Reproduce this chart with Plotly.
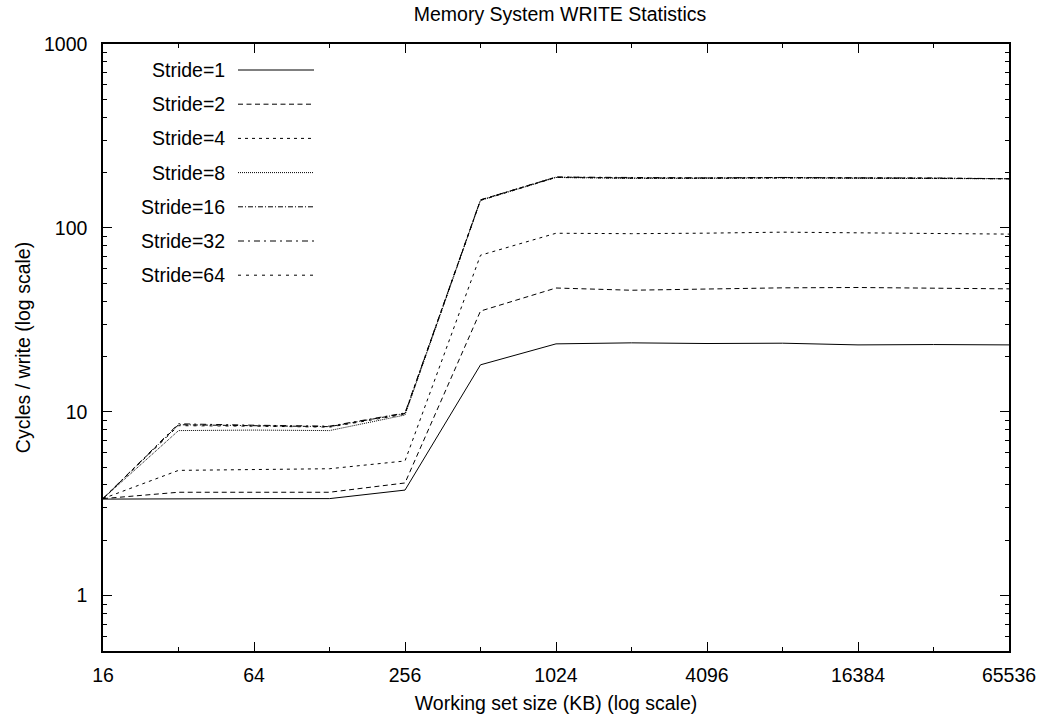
import plotly.graph_objects as go

# ---- data ----
sizes_kb = [16, 32, 64, 128, 256, 512, 1024, 2048, 4096, 8192, 16384, 32768, 65536]
stride_1 = [3.35, 3.37, 3.37, 3.37, 3.75, 18.0, 23.4, 23.7, 23.5, 23.6, 23.1, 23.2, 23.1]
stride_2 = [3.37, 3.65, 3.65, 3.65, 4.1, 35.3, 47.1, 45.8, 46.5, 47.2, 47.4, 47.0, 46.6]
stride_4 = [3.37, 4.8, 4.85, 4.9, 5.4, 71.0, 93.5, 93.0, 93.6, 94.8, 94.0, 93.5, 92.5]
stride_8 = [3.37, 7.9, 7.95, 7.9, 9.6, 141.0, 188.0, 186.0, 186.0, 187.0, 186.0, 186.0, 185.0]
stride_16 = [3.37, 8.5, 8.4, 8.3, 9.8, 142.0, 189.0, 187.0, 187.0, 188.0, 187.0, 187.0, 185.0]
stride_32 = [3.37, 8.6, 8.45, 8.35, 9.85, 142.0, 189.0, 187.5, 187.0, 188.0, 187.5, 187.0, 185.0]
stride_64 = [3.37, 8.4, 8.35, 8.25, 9.7, 141.0, 188.0, 186.0, 186.0, 187.0, 187.0, 186.0, 185.0]

series_names = ["Stride=1", "Stride=2", "Stride=4", "Stride=8", "Stride=16", "Stride=32", "Stride=64"]
series_values = [stride_1, stride_2, stride_4, stride_8, stride_16, stride_32, stride_64]

x_major_ticks = [16, 64, 256, 1024, 4096, 16384, 65536]
x_minor_ticks = [32, 128, 512, 2048, 8192, 32768]
y_major_ticks = [1, 10, 100, 1000]

# ---- styles ----
dashes = ["solid", "5px,3.5px", "3px,4px", "1px,1px", "5px,2px,1px,2px", "6px,4px,2px,4px", "3px,5px"]
FONT = "Liberation Sans, Arial, Helvetica, sans-serif"
FS = 19.5

W, H = 1044, 717
L, R, T, B = 103, 1009, 44, 651
pw, ph = R - L, B - T

fig = go.Figure()
for name, vals, dash in zip(series_names, series_values, dashes):
    fig.add_trace(go.Scatter(x=sizes_kb, y=vals, mode="lines", name=name,
                             line=dict(color="black", width=1, dash=dash),
                             showlegend=False))

# manual gnuplot-style key: text right-aligned then line sample
for i, (name, dash) in enumerate(zip(series_names, dashes)):
    py = 70 + i * 34.2
    yp = (B - py) / ph
    fig.add_annotation(x=(227 - L) / pw, y=yp, xref="paper", yref="paper",
                       text=name, showarrow=False, xanchor="right", yanchor="middle",
                       font=dict(family=FONT, size=FS, color="black"))
    fig.add_shape(type="line", xref="paper", yref="paper",
                  x0=(238 - L) / pw, x1=(314 - L) / pw, y0=yp, y1=yp,
                  line=dict(color="black", width=1, dash=dash))

fig.update_layout(
    width=W, height=H,
    margin=dict(l=L, r=W - R, t=T, b=H - B, autoexpand=False),
    paper_bgcolor="white", plot_bgcolor="white",
    font=dict(family=FONT, size=FS, color="black"),
    title=dict(text="Memory System WRITE Statistics", x=560 / W, xanchor="center",
               y=1 - 14 / H, yanchor="middle", yref="container",
               font=dict(family=FONT, size=FS, color="black")),
)

fig.update_xaxes(
    type="log", range=[1.2041199826559248, 4.816479930623699],
    tickmode="array", tickvals=x_major_ticks, ticktext=[str(v) for v in x_major_ticks],
    ticks="inside", ticklen=9, tickwidth=1, tickcolor="black",
    minor=dict(tickmode="array", tickvals=x_minor_ticks, ticks="inside", ticklen=4.5,
               tickwidth=1, tickcolor="black", showgrid=False),
    showline=True, linewidth=1.5, linecolor="black", mirror="ticks",
    showgrid=False, zeroline=False, ticklabelstandoff=6,
    title=dict(text="Working set size (KB) (log scale)", standoff=11,
               font=dict(family=FONT, size=FS)),
)
fig.update_yaxes(
    type="log", range=[-0.30103, 3],
    tickmode="array", tickvals=y_major_ticks, ticktext=[str(v) for v in y_major_ticks],
    ticks="inside", ticklen=9, tickwidth=1, tickcolor="black",
    minor=dict(dtick="D1", ticks="inside", ticklen=4.5, tickwidth=1,
               tickcolor="black", showgrid=False),
    showline=True, linewidth=1.5, linecolor="black", mirror="ticks",
    showgrid=False, zeroline=False, ticklabelstandoff=10,
    title=dict(text="Cycles / write (log scale)", standoff=8,
               font=dict(family=FONT, size=FS)),
)

# remove the browser's default 8px body margin so the figure sits at the page corner
fig.write_html("out.html", config={"displayModeBar": False},
               post_script="document.body.style.margin='0';")
